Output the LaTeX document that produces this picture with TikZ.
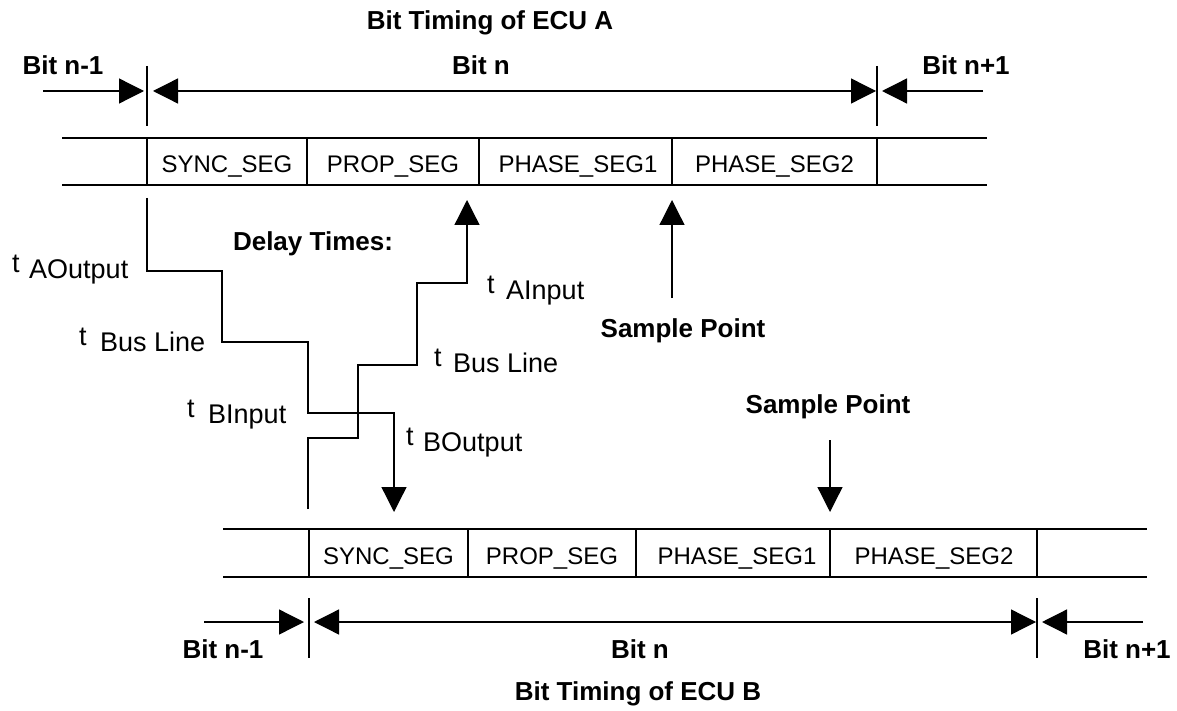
\documentclass[tikz,border=0pt]{standalone}
\usepackage{fontspec}
\setmainfont{Liberation Sans}
\usetikzlibrary{arrows.meta}

% delay label: small raised "t" followed by the delay name
\newcommand\dlab[2]{\raisebox{6pt}{t}\hspace{#1}#2}

\tikzset{
  wire/.style={line width=1.3pt},
  head/.style={-{Triangle[length=25pt,width=25pt]}},
  dhead/.style={{Triangle[length=25pt,width=25pt]}-{Triangle[length=25pt,width=25pt]}},
  segtext/.style={font=\fontsize{24}{28}\selectfont, anchor=base, inner sep=0pt},
  boldlbl/.style={font=\fontsize{26}{30}\selectfont\bfseries, anchor=base, inner sep=0pt},
  delaylbl/.style={font=\fontsize{27}{30}\selectfont, anchor=base west, inner sep=0pt},
}

\begin{document}
\begin{tikzpicture}[x=1pt,y=-1pt]
\useasboundingbox (0,0) rectangle (1177,711);

% ---------------- ECU A ----------------
\node[boldlbl] (titleA) at (490,30) {Bit Timing of ECU A};
\node[boldlbl] (aprev) at (63,75) {Bit n-1};
\node[boldlbl] (acur)  at (481,75) {Bit n};
\node[boldlbl] (anext) at (966,75) {Bit n+1};

% bit boundaries
\coordinate (aB0t) at (147,66);  \coordinate (aB0b) at (147,126);
\coordinate (aB1t) at (877,66);  \coordinate (aB1b) at (877,126);
\draw[wire] (aB0t) -- (aB0b);
\draw[wire] (aB1t) -- (aB1b);

% bit length arrows
\coordinate (aPrevS) at (43,91);  \coordinate (aPrevE) at (144,91);
\coordinate (aCurS)  at (153,91); \coordinate (aCurE)  at (876,91);
\coordinate (aNextS) at (983,91); \coordinate (aNextE) at (882,91);
\draw[wire,head]  (aPrevS) -- (aPrevE);
\draw[wire,dhead] (aCurS) -- (aCurE);
\draw[wire,head]  (aNextS) -- (aNextE);

% segment bar
\draw[wire] (62,138) -- (987,138) (62,185) -- (987,185);
\foreach \x in {147,307,479,672,877} \draw[wire] (\x,138) -- (\x,185);
\node[segtext] (aSync)  at (227,173) {SYNC\_SEG};
\node[segtext] (aProp)  at (393,173) {PROP\_SEG};
\node[segtext] (aPh1)   at (578,173) {PHASE\_SEG1};
\node[segtext] (aPh2)   at (774.5,173) {PHASE\_SEG2};

% sample point of A
\coordinate (aSpS) at (672,298); \coordinate (aSpE) at (672,200);
\draw[wire,head] (aSpS) -- (aSpE);
\node[boldlbl] (aSp) at (683,337) {Sample Point};

% ---------------- delay paths ----------------
\node[boldlbl] (delay) at (313,251) {Delay Times:};

\coordinate (outA) at (147,198);
\coordinate (inB)  at (394,512);
\draw[wire,head] (outA) -- (147,271) -- (222,271) -- (222,342) -- (308,342)
  -- (308,413) -- (394,413) -- (inB);

\coordinate (outB) at (308,509);
\coordinate (inA)  at (467,200);
\draw[wire,head] (outB) -- (308,438) -- (358,438) -- (358,365) -- (417,365)
  -- (417,283) -- (467,283) -- (inA);

\node[delaylbl] (tAout)  at (12,279)  {\dlab{9.5pt}{AOutput}};
\node[delaylbl] (tBus1)  at (79,351)  {\dlab{13.5pt}{Bus Line}};
\node[delaylbl] (tBin)   at (187,423) {\dlab{13.5pt}{BInput}};
\node[delaylbl] (tAin)   at (487,299) {\dlab{11.5pt}{AInput}};
\node[delaylbl] (tBus2)  at (434,372) {\dlab{11.5pt}{Bus Line}};
\node[delaylbl] (tBout)  at (406,451) {\dlab{9.5pt}{BOutput}};

% ---------------- ECU B ----------------
\node[boldlbl] (bSp) at (828,413) {Sample Point};
\coordinate (bSpS) at (830,440); \coordinate (bSpE) at (830,512);
\draw[wire,head] (bSpS) -- (bSpE);

% segment bar
\draw[wire] (223,529) -- (1147,529) (223,577) -- (1147,577);
\foreach \x in {309,468,636,830,1037} \draw[wire] (\x,529) -- (\x,577);
\node[segtext] (bSync) at (388.5,564) {SYNC\_SEG};
\node[segtext] (bProp) at (552,564) {PROP\_SEG};
\node[segtext] (bPh1)  at (737,564) {PHASE\_SEG1};
\node[segtext] (bPh2)  at (934,564) {PHASE\_SEG2};

% bit boundaries
\coordinate (bB0t) at (309,598);  \coordinate (bB0b) at (309,658);
\coordinate (bB1t) at (1037,598); \coordinate (bB1b) at (1037,658);
\draw[wire] (bB0t) -- (bB0b);
\draw[wire] (bB1t) -- (bB1b);

% bit length arrows
\coordinate (bPrevS) at (204,622);  \coordinate (bPrevE) at (304,622);
\coordinate (bCurS)  at (314,622);  \coordinate (bCurE)  at (1036,622);
\coordinate (bNextS) at (1143,622); \coordinate (bNextE) at (1042,622);
\draw[wire,head]  (bPrevS) -- (bPrevE);
\draw[wire,dhead] (bCurS) -- (bCurE);
\draw[wire,head]  (bNextS) -- (bNextE);

\node[boldlbl] (bprev) at (223,658) {Bit n-1};
\node[boldlbl] (bcur)  at (640,658) {Bit n};
\node[boldlbl] (bnext) at (1127,658) {Bit n+1};
\node[boldlbl] (titleB) at (638,700) {Bit Timing of ECU B};
\end{tikzpicture}
\end{document}
